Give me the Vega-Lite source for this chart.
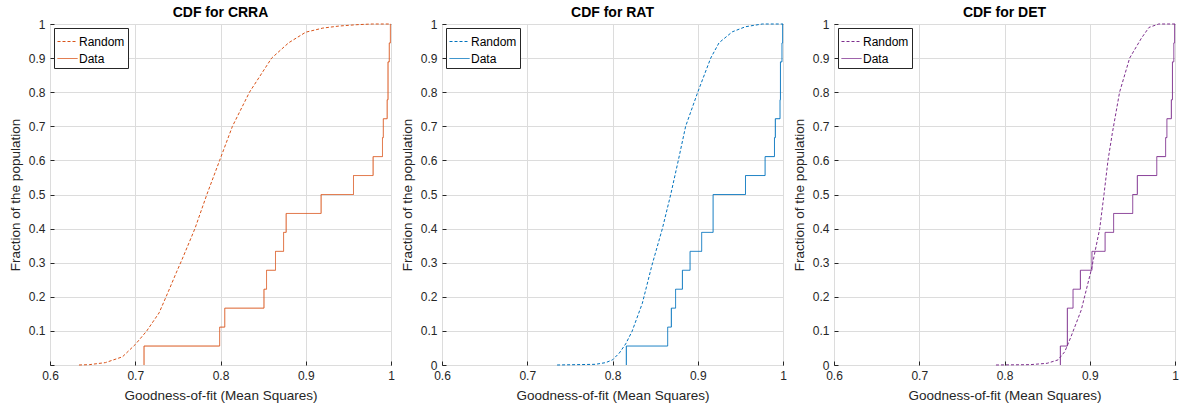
{
  "$schema": "https://vega.github.io/schema/vega-lite/v6.json",
  "padding": {"left": 7, "top": 5, "right": 5, "bottom": 5},
  "background": "white",
  "spacing": 51,
  "bounds": "flush",
  "config": {
    "font": "Liberation Sans",
    "view": {"stroke": "#262626", "strokeWidth": 1},
    "axis": {
      "labelFont": "Liberation Sans", "labelFontSize": 12, "labelColor": "#262626", "labelFlush": false,
      "titleFont": "Liberation Sans", "titleFontSize": 13.5, "titleFontWeight": "normal", "titleColor": "#262626",
      "domain": false, "tickColor": "#262626", "tickSize": -4, "tickWidth": 1,
      "gridColor": "#dcdcdc", "gridWidth": 1
    },
    "axisX": {"titlePadding": 7},
    "axisY": {"titlePadding": 6},
    "title": {"font": "Liberation Sans", "fontSize": 14, "fontWeight": "bold", "color": "#000000", "frame": "group", "offset": -2},
    "legend": {
      "orient": "top-left", "offset": 4, "title": null,
      "strokeColor": "#262626", "fillColor": "white", "padding": 3,
      "labelFont": "Liberation Sans", "labelFontSize": 12, "labelColor": "#000000",
      "symbolType": "stroke", "symbolSize": 400, "symbolStrokeWidth": 1, "rowPadding": -6, "labelOffset": 1
    }
  },
  "datasets": {
    "crra": [
      {"x": 0.634, "y": 0, "series": "Random"}, {"x": 0.646, "y": 0.001, "series": "Random"},
      {"x": 0.665, "y": 0.007, "series": "Random"}, {"x": 0.685, "y": 0.024, "series": "Random"},
      {"x": 0.7, "y": 0.06, "series": "Random"}, {"x": 0.7135, "y": 0.1, "series": "Random"},
      {"x": 0.728, "y": 0.153, "series": "Random"}, {"x": 0.7396, "y": 0.22, "series": "Random"},
      {"x": 0.748, "y": 0.27, "series": "Random"}, {"x": 0.755, "y": 0.31, "series": "Random"},
      {"x": 0.77, "y": 0.4, "series": "Random"}, {"x": 0.784, "y": 0.5, "series": "Random"},
      {"x": 0.799, "y": 0.6, "series": "Random"}, {"x": 0.814, "y": 0.7, "series": "Random"},
      {"x": 0.834, "y": 0.8, "series": "Random"}, {"x": 0.86, "y": 0.9, "series": "Random"},
      {"x": 0.88, "y": 0.945, "series": "Random"}, {"x": 0.9, "y": 0.976, "series": "Random"},
      {"x": 0.92, "y": 0.988, "series": "Random"}, {"x": 0.939, "y": 0.994, "series": "Random"},
      {"x": 0.96, "y": 0.998, "series": "Random"}, {"x": 0.978, "y": 1, "series": "Random"},
      {"x": 1.0, "y": 1, "series": "Random"},
      {"x": 0.7103, "y": 0, "series": "Data"}, {"x": 0.7103, "y": 0.0556, "series": "Data"},
      {"x": 0.799, "y": 0.1111, "series": "Data"}, {"x": 0.805, "y": 0.1667, "series": "Data"},
      {"x": 0.851, "y": 0.2222, "series": "Data"}, {"x": 0.854, "y": 0.2778, "series": "Data"},
      {"x": 0.8645, "y": 0.3333, "series": "Data"}, {"x": 0.874, "y": 0.3889, "series": "Data"},
      {"x": 0.877, "y": 0.4444, "series": "Data"}, {"x": 0.918, "y": 0.5, "series": "Data"},
      {"x": 0.956, "y": 0.5556, "series": "Data"}, {"x": 0.979, "y": 0.6111, "series": "Data"},
      {"x": 0.99, "y": 0.6667, "series": "Data"}, {"x": 0.991, "y": 0.7222, "series": "Data"},
      {"x": 0.9955, "y": 0.7778, "series": "Data"}, {"x": 0.9965, "y": 0.8889, "series": "Data"},
      {"x": 0.998, "y": 0.9444, "series": "Data"}, {"x": 0.9993, "y": 1, "series": "Data"}
    ],
    "rat": [
      {"x": 0.735, "y": 0, "series": "Random"}, {"x": 0.78, "y": 0.002, "series": "Random"},
      {"x": 0.792, "y": 0.007, "series": "Random"}, {"x": 0.8, "y": 0.015, "series": "Random"},
      {"x": 0.808, "y": 0.035, "series": "Random"}, {"x": 0.8155, "y": 0.062, "series": "Random"},
      {"x": 0.823, "y": 0.099, "series": "Random"}, {"x": 0.835, "y": 0.181, "series": "Random"},
      {"x": 0.846, "y": 0.29, "series": "Random"}, {"x": 0.8585, "y": 0.4, "series": "Random"},
      {"x": 0.8683, "y": 0.5, "series": "Random"}, {"x": 0.8772, "y": 0.6, "series": "Random"},
      {"x": 0.8858, "y": 0.7, "series": "Random"}, {"x": 0.9, "y": 0.8, "series": "Random"},
      {"x": 0.9152, "y": 0.9, "series": "Random"}, {"x": 0.925, "y": 0.945, "series": "Random"},
      {"x": 0.9405, "y": 0.977, "series": "Random"}, {"x": 0.956, "y": 0.992, "series": "Random"},
      {"x": 0.9757, "y": 1, "series": "Random"}, {"x": 1.0, "y": 1, "series": "Random"},
      {"x": 0.8162, "y": 0, "series": "Data"}, {"x": 0.8162, "y": 0.0556, "series": "Data"},
      {"x": 0.8647, "y": 0.1111, "series": "Data"}, {"x": 0.869, "y": 0.1667, "series": "Data"},
      {"x": 0.874, "y": 0.2222, "series": "Data"}, {"x": 0.882, "y": 0.2778, "series": "Data"},
      {"x": 0.891, "y": 0.3333, "series": "Data"}, {"x": 0.9046, "y": 0.3889, "series": "Data"},
      {"x": 0.918, "y": 0.5, "series": "Data"}, {"x": 0.956, "y": 0.5556, "series": "Data"},
      {"x": 0.979, "y": 0.6111, "series": "Data"}, {"x": 0.99, "y": 0.6667, "series": "Data"},
      {"x": 0.991, "y": 0.7222, "series": "Data"}, {"x": 0.9965, "y": 0.7778, "series": "Data"},
      {"x": 0.997, "y": 0.8889, "series": "Data"}, {"x": 0.9988, "y": 0.9444, "series": "Data"},
      {"x": 0.9995, "y": 1, "series": "Data"}
    ],
    "det": [
      {"x": 0.79, "y": 0, "series": "Random"}, {"x": 0.83, "y": 0.001, "series": "Random"},
      {"x": 0.85, "y": 0.005, "series": "Random"}, {"x": 0.8628, "y": 0.015, "series": "Random"},
      {"x": 0.8707, "y": 0.039, "series": "Random"}, {"x": 0.878, "y": 0.083, "series": "Random"},
      {"x": 0.89, "y": 0.161, "series": "Random"}, {"x": 0.9018, "y": 0.279, "series": "Random"},
      {"x": 0.9117, "y": 0.4, "series": "Random"}, {"x": 0.9167, "y": 0.5, "series": "Random"},
      {"x": 0.9214, "y": 0.6, "series": "Random"}, {"x": 0.9265, "y": 0.68, "series": "Random"},
      {"x": 0.935, "y": 0.8, "series": "Random"}, {"x": 0.9468, "y": 0.9, "series": "Random"},
      {"x": 0.9605, "y": 0.958, "series": "Random"}, {"x": 0.9695, "y": 0.99, "series": "Random"},
      {"x": 0.981, "y": 1, "series": "Random"}, {"x": 1.0, "y": 1, "series": "Random"},
      {"x": 0.8655, "y": 0, "series": "Data"}, {"x": 0.8655, "y": 0.0556, "series": "Data"},
      {"x": 0.8737, "y": 0.1667, "series": "Data"}, {"x": 0.8804, "y": 0.2222, "series": "Data"},
      {"x": 0.889, "y": 0.2778, "series": "Data"}, {"x": 0.9026, "y": 0.3333, "series": "Data"},
      {"x": 0.918, "y": 0.3889, "series": "Data"}, {"x": 0.928, "y": 0.4444, "series": "Data"},
      {"x": 0.9504, "y": 0.5, "series": "Data"}, {"x": 0.9558, "y": 0.5556, "series": "Data"},
      {"x": 0.9786, "y": 0.6111, "series": "Data"}, {"x": 0.989, "y": 0.6667, "series": "Data"},
      {"x": 0.9905, "y": 0.7222, "series": "Data"}, {"x": 0.9957, "y": 0.7778, "series": "Data"},
      {"x": 0.997, "y": 0.8889, "series": "Data"}, {"x": 0.9986, "y": 0.9444, "series": "Data"},
      {"x": 0.9995, "y": 1, "series": "Data"}
    ]
  },
  "hconcat": [
    {
      "title": "CDF for CRRA", "width": 341, "height": 341, "data": {"name": "crra"},
      "encoding": {
        "x": {"field": "x", "type": "quantitative", "scale": {"domain": [0.6, 1], "nice": false, "zero": false}, "axis": {"values": [0.6, 0.7, 0.8, 0.9, 1], "format": "~g", "title": "Goodness-of-fit (Mean Squares)", "labelPadding": 9}},
        "y": {"field": "y", "type": "quantitative", "scale": {"domain": [0, 1], "nice": false}, "axis": {"values": [0, 0.1, 0.2, 0.3, 0.4, 0.5, 0.6, 0.7, 0.8, 0.9, 1], "format": "~g", "labelExpr": "datum.value == 0 ? '' : datum.label", "title": "Fraction of the population", "labelPadding": 9}},
        "color": {"field": "series", "type": "nominal", "scale": {"domain": ["Random", "Data"], "range": ["#D95319", "#D95319"]}},
        "strokeDash": {"field": "series", "type": "nominal", "scale": {"domain": ["Random", "Data"], "range": [[3, 2], [1, 0]]}},
        "order": [{"field": "x"}, {"field": "y"}]
      },
      "layer": [
        {"transform": [{"filter": "datum.series === 'Random'"}], "mark": {"type": "line", "strokeWidth": 1}},
        {"transform": [{"filter": "datum.series === 'Data'"}], "mark": {"type": "line", "strokeWidth": 1, "interpolate": "step-after"}}
      ]
    },
    {
      "title": "CDF for RAT", "width": 341, "height": 341, "data": {"name": "rat"},
      "encoding": {
        "x": {"field": "x", "type": "quantitative", "scale": {"domain": [0.6, 1], "nice": false, "zero": false}, "axis": {"values": [0.6, 0.7, 0.8, 0.9, 1], "format": "~g", "title": "Goodness-of-fit (Mean Squares)", "labelPadding": 9}},
        "y": {"field": "y", "type": "quantitative", "scale": {"domain": [0, 1], "nice": false}, "axis": {"values": [0, 0.1, 0.2, 0.3, 0.4, 0.5, 0.6, 0.7, 0.8, 0.9, 1], "format": "~g", "title": "Fraction of the population", "labelPadding": 9}},
        "color": {"field": "series", "type": "nominal", "scale": {"domain": ["Random", "Data"], "range": ["#0072BD", "#0072BD"]}},
        "strokeDash": {"field": "series", "type": "nominal", "scale": {"domain": ["Random", "Data"], "range": [[3, 2], [1, 0]]}},
        "order": [{"field": "x"}, {"field": "y"}]
      },
      "layer": [
        {"transform": [{"filter": "datum.series === 'Random'"}], "mark": {"type": "line", "strokeWidth": 1}},
        {"transform": [{"filter": "datum.series === 'Data'"}], "mark": {"type": "line", "strokeWidth": 1, "interpolate": "step-after"}}
      ]
    },
    {
      "title": "CDF for DET", "width": 341, "height": 341, "data": {"name": "det"},
      "encoding": {
        "x": {"field": "x", "type": "quantitative", "scale": {"domain": [0.6, 1], "nice": false, "zero": false}, "axis": {"values": [0.6, 0.7, 0.8, 0.9, 1], "format": "~g", "title": "Goodness-of-fit (Mean Squares)", "labelPadding": 9}},
        "y": {"field": "y", "type": "quantitative", "scale": {"domain": [0, 1], "nice": false}, "axis": {"values": [0, 0.1, 0.2, 0.3, 0.4, 0.5, 0.6, 0.7, 0.8, 0.9, 1], "format": "~g", "title": "Fraction of the population", "labelPadding": 9}},
        "color": {"field": "series", "type": "nominal", "scale": {"domain": ["Random", "Data"], "range": ["#7E2F8E", "#7E2F8E"]}},
        "strokeDash": {"field": "series", "type": "nominal", "scale": {"domain": ["Random", "Data"], "range": [[3, 2], [1, 0]]}},
        "order": [{"field": "x"}, {"field": "y"}]
      },
      "layer": [
        {"transform": [{"filter": "datum.series === 'Random'"}], "mark": {"type": "line", "strokeWidth": 1}},
        {"transform": [{"filter": "datum.series === 'Data'"}], "mark": {"type": "line", "strokeWidth": 1, "interpolate": "step-after"}}
      ]
    }
  ],
  "resolve": {"scale": {"color": "independent", "strokeDash": "independent"}, "legend": {"color": "independent", "strokeDash": "independent"}}
}
